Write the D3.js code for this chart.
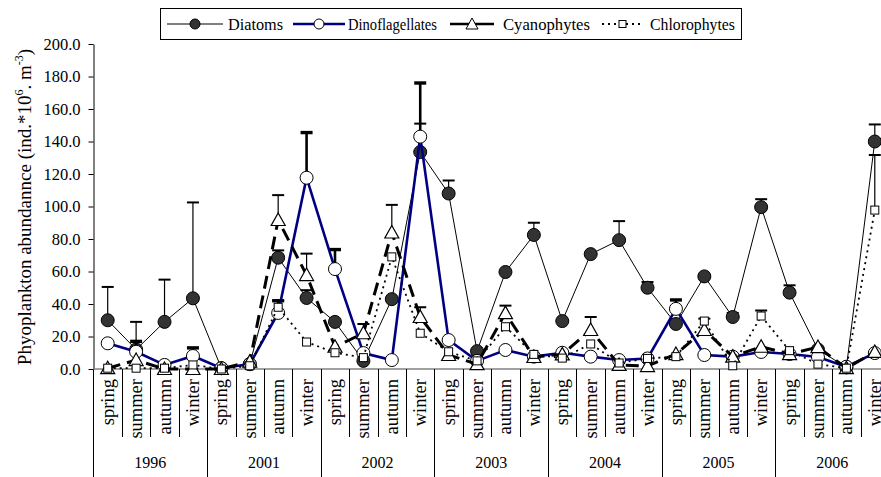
<!DOCTYPE html>
<html>
<head>
<meta charset="utf-8">
<script src="https://cdn.jsdelivr.net/npm/d3@7"></script>
<style>
  body { margin: 0; background: #fff; }
  svg text { font-family: "Liberation Serif", "DejaVu Serif", serif; }
</style>
</head>
<body>
<svg id="chart" width="881" height="477"></svg>
<script>
// Categories: four seasons for each sampled year.
var years = ["1996", "2001", "2002", "2003", "2004", "2005", "2006"];
var seasons = ["spring", "summer", "autumn", "winter"];

// Series values (ind.*10^6 m^-3), one per season, in year order.
var diatoms = [30, 12, 29, 43.5, 0.5, 3, 68.5, 43.7, 29, 5, 43, 133.5, 108, 11, 59.7, 82.5, 29.5, 70.7, 79.3, 50, 27.7, 57, 32, 99.6, 47, 12, 1, 140];
var dinoflagellates = [15.8, 10.6, 2.5, 8, 0.5, 3, 34.5, 117.7, 61.5, 9.8, 5.5, 143, 17.8, 5, 11.7, 7.6, 10, 7.6, 5.5, 6.5, 37, 8.6, 7.6, 10.5, 9.2, 7.4, 1.4, 9.8];
var cyanophytes = [0.5, 5.5, 0, 0, 0, 4.5, 91.7, 57.8, 13.7, 22, 84, 32, 8.6, 3, 34.4, 7.4, 9, 24, 2.5, 1.8, 9.2, 24, 7.6, 13.7, 9.2, 13.5, 0.5, 10.5];
var chlorophytes = [0.5, 0.5, 0.5, 2.5, 0, 2, 38, 16.6, 10, 7, 69, 22, 10.6, 5, 26, 9, 6.7, 15.4, 3.7, 6.5, 7.6, 29.5, 2, 32.6, 11.3, 3, 0.5, 97.8];

// Upper ends of the error bars (null = no bar drawn).
var diatomsTop = [50.5, 29, 55, 102.5, null, null, 73, 48.5, null, null, null, 151, 116, null, null, 90, null, null, 91, 53.5, null, null, 34.5, 104.5, 51.5, null, null, 150.5];
var dinoflagellatesTop = [null, 17, null, 13, null, null, 42, 145.5, 73.5, null, null, 176, null, null, null, null, null, null, null, null, 42.5, null, null, null, null, null, null, null];
var cyanophytesTop = [null, null, null, null, null, null, 107, 71, null, 27.7, 101, 38, null, null, 39, null, null, 32, null, null, null, null, null, null, null, null, null, null];
var chlorophytesTop = [null, null, null, null, null, null, 42, null, null, null, null, null, null, null, null, null, null, null, null, null, null, 31, null, 36, null, null, null, 131.7];

// Y axis ticks.
var yTicks = [0, 20, 40, 60, 80, 100, 120, 140, 160, 180, 200];

var serif = "'Liberation Serif', 'DejaVu Serif', serif";
var svg = d3.select("#chart");

var categories = [];
years.forEach(function (yr) {
  seasons.forEach(function (s) { categories.push(yr + "-" + s); });
});

var x = d3.scaleBand().domain(categories).range([93.5, 889]);
var y = d3.scaleLinear().domain([0, 200]).range([369, 44]);

function cx(i) { return x(categories[i]) + x.bandwidth() / 2; }

// Y axis.
var yAxis = svg.append("g")
  .attr("transform", "translate(93.5,0)")
  .call(d3.axisLeft(y).tickValues(yTicks).tickFormat(d3.format(".1f")).tickSize(5).tickSizeOuter(0).tickPadding(8));
yAxis.attr("font-family", serif).attr("font-size", null);
yAxis.selectAll("text").style("font-size", "16.5px").attr("fill", "#000");
yAxis.selectAll("line, path").attr("stroke", "#000");
svg.append("line").attr("x1", 93.5).attr("x2", 93.5).attr("y1", 369).attr("y2", 477).attr("stroke", "#000");

// Y title with superscripts.
var title = svg.append("text")
  .attr("transform", "translate(31,207) rotate(-90)")
  .attr("text-anchor", "middle")
  .style("font-size", "19px");
title.append("tspan").text("Phyoplankton abundannce (ind.*10");
title.append("tspan").attr("dy", -8).style("font-size", "12px").text("6");
title.append("tspan").attr("dy", 8).text(". m");
title.append("tspan").attr("dy", -8).style("font-size", "12px").text("-3");
title.append("tspan").attr("dy", 8).text(")");

// X axis: baseline and season / year separators.
svg.append("line").attr("x1", 93.5).attr("x2", 889).attr("y1", 369).attr("y2", 369)
  .attr("stroke", "#808080").attr("stroke-width", 1.5);

svg.append("g").selectAll("line")
  .data(d3.range(1, categories.length + 1))
  .join("line")
  .attr("x1", function (i) { return Math.round(x.step() * i + 93.5) + 0.5; })
  .attr("x2", function (i) { return Math.round(x.step() * i + 93.5) + 0.5; })
  .attr("y1", 369)
  .attr("y2", function (i) { return i % 4 === 0 ? 477 : 437; })
  .attr("stroke", "#000");

svg.append("g").selectAll("text")
  .data(categories)
  .join("text")
  .attr("transform", function (d, i) { return "translate(" + (cx(i) + 6) + ",379) rotate(-90)"; })
  .attr("text-anchor", "end")
  .style("font-size", "18.5px")
  .text(function (d) { return d.split("-")[1]; });

svg.append("g").selectAll("text")
  .data(years)
  .join("text")
  .attr("x", function (d, i) { return (cx(i * 4) + cx(i * 4 + 3)) / 2; })
  .attr("y", 468)
  .attr("text-anchor", "middle")
  .style("font-size", "16px")
  .text(function (d) { return d; });

// Series definitions.
var series = [
  { name: "Diatoms", values: diatoms, tops: diatomsTop, stroke: "#000", width: 1, dash: null, marker: "circle", fill: "#333", errWidth: 1.2 },
  { name: "Dinoflagellates", values: dinoflagellates, tops: dinoflagellatesTop, stroke: "#000080", width: 2.6, dash: null, marker: "circle", fill: "#fff", errWidth: 2.6 },
  { name: "Cyanophytes", values: cyanophytes, tops: cyanophytesTop, stroke: "#000", width: 3, dash: "13,7", marker: "triangle", fill: "#fff", errWidth: 1.2 },
  { name: "Chlorophytes", values: chlorophytes, tops: chlorophytesTop, stroke: "#000", width: 1.8, dash: "2,4", marker: "square", fill: "#fff", errWidth: 1.2 }
];

var line = d3.line().x(function (d, i) { return cx(i); }).y(function (d) { return y(d); });

function drawMarker(g, type, fill) {
  if (type === "circle") {
    g.append("circle").attr("r", 6.5).attr("fill", fill).attr("stroke", "#000").attr("stroke-width", 1);
  } else if (type === "triangle") {
    g.append("path").attr("d", "M0,-7L7,5.5L-7,5.5Z").attr("fill", fill).attr("stroke", "#000").attr("stroke-width", 1.2);
  } else {
    g.append("rect").attr("x", -4).attr("y", -4).attr("width", 8).attr("height", 8)
      .attr("fill", fill).attr("stroke", "#000").attr("stroke-width", 1);
  }
}

series.forEach(function (s) {
  var g = svg.append("g");

  // Error bars.
  s.tops.forEach(function (t, i) {
    if (t === null) return;
    g.append("line").attr("x1", cx(i)).attr("x2", cx(i)).attr("y1", y(s.values[i])).attr("y2", y(t))
      .attr("stroke", "#000").attr("stroke-width", s.errWidth);
    g.append("line").attr("x1", cx(i) - 6).attr("x2", cx(i) + 6).attr("y1", y(t)).attr("y2", y(t))
      .attr("stroke", "#000").attr("stroke-width", s.errWidth + 0.8);
  });

  g.append("path")
    .attr("d", line(s.values))
    .attr("fill", "none")
    .attr("stroke", s.stroke)
    .attr("stroke-width", s.width)
    .attr("stroke-dasharray", s.dash);

  s.values.forEach(function (v, i) {
    var m = g.append("g").attr("transform", "translate(" + cx(i) + "," + y(v) + ")");
    drawMarker(m, s.marker, s.fill);
  });
});

// Legend.
var legend = svg.append("g");
legend.append("rect").attr("x", 160.5).attr("y", 8.5).attr("width", 581).attr("height", 31)
  .attr("fill", "#fff").attr("stroke", "#000");

var legendItems = [
  { x1: 167, x2: 223, tx: 228, len: 55 },
  { x1: 293, x2: 345, tx: 348, len: 89 },
  { x1: 450, x2: 494, tx: 503, len: 87 },
  { x1: 602, x2: 643, tx: 650, len: 85 }
];

series.forEach(function (s, i) {
  var it = legendItems[i];
  legend.append("line").attr("x1", it.x1).attr("x2", it.x2).attr("y1", 24).attr("y2", 24)
    .attr("stroke", s.stroke).attr("stroke-width", Math.min(s.width, 2.5))
    .attr("stroke-dasharray", s.marker === "square" ? s.dash : null);
  var m = legend.append("g").attr("transform", "translate(" + (it.x1 + it.x2) / 2 + ",24)");
  if (s.marker === "circle") {
    m.append("circle").attr("r", 5).attr("fill", s.fill).attr("stroke", "#000");
  } else if (s.marker === "triangle") {
    m.append("path").attr("d", "M0,-6L6,5L-6,5Z").attr("fill", "#fff").attr("stroke", "#000");
  } else {
    m.append("rect").attr("x", -3.5).attr("y", -3.5).attr("width", 7).attr("height", 7).attr("fill", "#fff").attr("stroke", "#000");
  }
  legend.append("text").attr("x", it.tx).attr("y", 30).style("font-size", "17px")
    .attr("textLength", it.len).attr("lengthAdjust", "spacingAndGlyphs")
    .text(s.name);
});
</script>
</body>
</html>
